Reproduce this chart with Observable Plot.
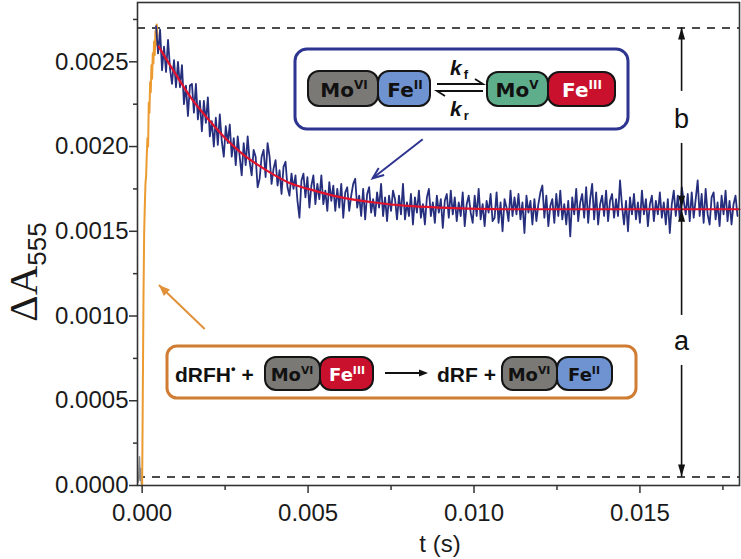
<!DOCTYPE html>
<html><head><meta charset="utf-8">
<script src="https://cdn.jsdelivr.net/npm/d3@7"></script>
<script src="https://cdn.jsdelivr.net/npm/@observablehq/plot@0.6"></script>
<style>body{margin:0;background:#fff}#chart{width:741px;height:559px}</style>
</head><body><div id="chart"></div>
<script>
// ---- axis ticks ----
const yTicks = [0, 0.0005, 0.0010, 0.0015, 0.0020, 0.0025];
const yMinor = [0.00025, 0.00075, 0.00125, 0.00175, 0.00225, 0.00275];
const xTicks = [0, 0.005, 0.010, 0.015];
const xMinor = [0.0025, 0.0075, 0.0125, 0.0175];

// ---- orange rising phase ----
const riseT = [0,0.00002,0.00004,0.00006,0.00008,0.0001,0.00012,0.00014,0.00016,0.00018,0.0002,0.00022,0.00024,0.00026,0.00028,0.0003,0.00032,0.00034,0.00036,0.00038,0.0004,0.00042,0.00044,0.00046];
const riseV = [0,0.00055,0.00110,0.00148,0.00165,0.00178,0.00183,0.00195,0.00205,0.00200,0.00226,0.00220,0.00238,0.00232,0.00248,0.00240,0.00255,0.00249,0.00262,0.00254,0.00268,0.00260,0.00272,0.00265];

// ---- pre-trigger baseline ----
const preT = [-0.00012,-0.0001,-0.00008,-0.00006,-0.00004,-0.00002,0];
const preV = [0.00002,0.00006,0.00017,0.00003,0.00010,0.00001,0];

// ---- blue decay trace (uniform sampling) ----
const traceStart = 0.00042, traceStep = 0.00006;
const traceV = [
0.00271,0.00255,0.00269,0.00245,0.00259,0.00244,0.00263,0.00246,0.00237,0.00251,
0.00235,0.00250,0.00235,0.00248,0.00225,0.00236,0.00218,0.00236,0.00237,0.00220,
0.00237,0.00216,0.00227,0.00209,0.00227,0.00214,0.00229,0.00206,0.00215,0.00200,
0.00217,0.00201,0.00219,0.00203,0.00194,0.00212,0.00202,0.00213,0.00194,0.00205,
0.00189,0.00206,0.00194,0.00183,0.00202,0.00189,0.00206,0.00191,0.00183,0.00198,
0.00194,0.00176,0.00181,0.00194,0.00198,0.00182,0.00202,0.00194,0.00178,0.00187,
0.00192,0.00177,0.00186,0.00172,0.00188,0.00191,0.00176,0.00171,0.00184,0.00175,
0.00183,0.00168,0.00158,0.00180,0.00184,0.00170,0.00182,0.00164,0.00177,0.00183,
0.00166,0.00178,0.00169,0.00183,0.00166,0.00174,0.00162,0.00179,0.00168,0.00177,
0.00162,0.00175,0.00164,0.00178,0.00158,0.00173,0.00176,0.00162,0.00171,0.00178,
0.00181,0.00164,0.00171,0.00159,0.00175,0.00157,0.00172,0.00176,0.00161,0.00169,
0.00159,0.00173,0.00164,0.00178,0.00159,0.00170,0.00156,0.00171,0.00162,0.00174,
0.00169,0.00157,0.00171,0.00160,0.00178,0.00157,0.00167,0.00159,0.00172,0.00154,
0.00170,0.00161,0.00174,0.00158,0.00166,0.00154,0.00170,0.00175,0.00159,0.00167,
0.00155,0.00171,0.00161,0.00169,0.00152,0.00168,0.00172,0.00158,0.00174,0.00160,
0.00170,0.00156,0.00167,0.00159,0.00173,0.00153,0.00166,0.00171,0.00161,0.00155,
0.00171,0.00159,0.00175,0.00157,0.00166,0.00153,0.00168,0.00161,0.00172,0.00156,
0.00158,0.00173,0.00155,0.00167,0.00150,0.00169,0.00164,0.00156,0.00174,0.00159,
0.00170,0.00160,0.00172,0.00157,0.00167,0.00149,0.00171,0.00161,0.00168,0.00154,
0.00169,0.00156,0.00166,0.00173,0.00177,0.00158,0.00171,0.00153,0.00165,0.00169,
0.00155,0.00172,0.00159,0.00174,0.00157,0.00166,0.00154,0.00168,0.00147,0.00170,
0.00160,0.00175,0.00156,0.00167,0.00172,0.00158,0.00176,0.00155,0.00169,0.00178,
0.00157,0.00173,0.00154,0.00166,0.00171,0.00159,0.00174,0.00156,0.00168,0.00172,
0.00158,0.00169,0.00159,0.00180,0.00165,0.00154,0.00168,0.00150,0.00170,0.00160,
0.00172,0.00157,0.00167,0.00155,0.00174,0.00160,0.00169,0.00153,0.00166,0.00171,
0.00156,0.00168,0.00160,0.00173,0.00158,0.00167,0.00154,0.00169,0.00149,0.00166,
0.00174,0.00159,0.00171,0.00157,0.00176,0.00168,0.00160,0.00172,0.00156,0.00173,
0.00158,0.00169,0.00180,0.00159,0.00172,0.00155,0.00175,0.00160,0.00154,0.00170,
0.00173,0.00157,0.00167,0.00153,0.00171,0.00160,0.00174,0.00156,0.00168,0.00154,0.00166,0.00171,0.00159];

// ---- red exponential fit ----
const fitT = [0.0005,0.001,0.0015,0.002,0.0025,0.003,0.0035,0.004,0.0045,0.005,0.006,0.007,0.008,0.009,0.011,0.014,0.018];
const fitV = [0.00259,0.00243,0.00228,0.00216,0.00205,0.00196,0.00189,0.00183,0.00178,0.00175,0.00170,0.00167,0.00165,0.00164,0.00163,0.00163,0.00163];

// ---- annotation levels ----
const levelTop = 0.0027, levelMid = 0.00163, levelBase = 0.00005;
const arrowT = 0.01627;
const labelB = 0.00216, labelA = 0.00085;
const navyPointer = {t1: 0.00847, v1: 0.00204, t2: 0.00696, v2: 0.00181};
const orangePointer = {t1: 0.0019, v1: 0.00092, t2: 0.00052, v2: 0.00118};

const rise = riseT.map((t, i) => ({t, v: riseV[i]}));
const pre = preT.map((t, i) => ({t, v: preV[i]}));
const trace = traceV.map((v, i) => ({t: traceStart + i * traceStep, v}));
const fit = fitT.map((t, i) => ({t, v: fitV[i]}));

const FONT = "'Liberation Sans', Arial, sans-serif";
const CHEM = "'DejaVu Sans', 'Liberation Sans', sans-serif";
const chart = Plot.plot({
  width: 741, height: 559,
  marginLeft: 137, marginRight: 2, marginTop: 2, marginBottom: 74,
  style: {fontFamily: FONT, background: "#fff", color: "#1a1a1a"},
  x: {domain: [-0.00014, 0.018]},
  y: {domain: [0, 0.00285]},
  marks: [
    Plot.ruleY([levelTop, levelBase], {stroke: "#111", strokeWidth: 1.5, strokeDasharray: "8,7"}),
    Plot.line(pre, {x: "t", y: "v", stroke: "#8a8a8a", strokeWidth: 1.5}),
    Plot.line(rise, {x: "t", y: "v", stroke: "#eb9b30", strokeWidth: 2}),
    Plot.line(trace, {x: "t", y: "v", stroke: "#262f7e", strokeWidth: 1.8}),
    Plot.line(fit, {x: "t", y: "v", stroke: "#e3122b", strokeWidth: 2.2, curve: "monotone-x"}),
    Plot.frame({stroke: "#333", strokeWidth: 1.6}),
    Plot.axisY(yTicks, {tickSize: 8, tickPadding: 1, fontSize: 24, tickFormat: d3.format(".4f"), label: null, stroke: "#333", strokeWidth: 1.5}),
    Plot.axisY(yMinor, {tickSize: 4, tickFormat: () => "", label: null, stroke: "#333", strokeWidth: 1.5}),
    Plot.axisX(xTicks, {tickSize: 8, tickPadding: 10, fontSize: 24, tickFormat: d3.format(".3f"), label: null, stroke: "#333", strokeWidth: 1.5}),
    Plot.axisX(xMinor, {tickSize: 5, tickFormat: () => "", label: null, stroke: "#333", strokeWidth: 1.5})
  ]
});
document.getElementById("chart").appendChild(chart);

const xs = chart.scale("x"), ys = chart.scale("y");
const X = v => xs.apply(v), Y = v => ys.apply(v);
const svg = d3.select(chart);
const g = svg.append("g").attr("text-anchor", "start");

// axis titles
const yl = g.append("text").attr("transform", "translate(37,272) rotate(-90)").attr("text-anchor", "middle").attr("fill", "#1a1a1a");
yl.append("tspan").attr("font-family", "'Liberation Serif', 'Times New Roman', serif").attr("font-size", 41).text("ΔA");
yl.append("tspan").attr("font-family", FONT).attr("font-size", 26).attr("dy", 9).text("555");
g.append("text").attr("x", 440).attr("y", 552).attr("text-anchor", "middle").attr("font-family", FONT).attr("font-size", 24).attr("fill", "#1a1a1a").text("t (s)");

function tri(px, py, dir, len, hw, fill) {
  g.append("path").attr("d", `M${px},${py}L${px - hw},${py - dir * len}L${px + hw},${py - dir * len}Z`).attr("fill", fill);
}
// a / b arrows
const ax = X(arrowT);
const gapB = [Y(labelB) - 28, Y(labelB) + 24], gapA = [Y(labelA) - 26, Y(labelA) + 24];
const segs = [[Y(levelTop), gapB[0]], [gapB[1], Y(levelMid)], [Y(levelMid), gapA[0]], [gapA[1], Y(levelBase)]];
segs.forEach(([a, b]) => g.append("line").attr("x1", ax).attr("x2", ax).attr("y1", a).attr("y2", b).attr("stroke", "#111").attr("stroke-width", 1.6));
tri(ax, Y(levelTop), -1, 12, 3.5, "#111");
tri(ax, Y(levelMid) - 1, 1, 12, 3.5, "#111");
tri(ax, Y(levelMid) + 1, -1, 12, 3.5, "#111");
tri(ax, Y(levelBase), 1, 12, 3.5, "#111");
g.append("text").attr("x", ax).attr("y", Y(labelB) + 9).attr("text-anchor", "middle").attr("font-family", FONT).attr("font-size", 27).attr("fill", "#111").text("b");
g.append("text").attr("x", ax).attr("y", Y(labelA) + 9).attr("text-anchor", "middle").attr("font-family", FONT).attr("font-size", 27).attr("fill", "#111").text("a");

// pointer arrows
function pointer(p, color, filled) {
  const x1 = X(p.t1), y1 = Y(p.v1), x2 = X(p.t2), y2 = Y(p.v2);
  const ang = Math.atan2(y2 - y1, x2 - x1), L = 12, w = 0.38;
  g.append("line").attr("x1", x1).attr("y1", y1).attr("x2", x2).attr("y2", y2).attr("stroke", color).attr("stroke-width", 2);
  const pA = [x2 - L * Math.cos(ang - w), y2 - L * Math.sin(ang - w)], pB = [x2 - L * Math.cos(ang + w), y2 - L * Math.sin(ang + w)];
  if (filled) g.append("path").attr("d", `M${x2},${y2}L${pA}L${pB}Z`).attr("fill", color);
  else g.append("path").attr("d", `M${pA}L${x2},${y2}L${pB}`).attr("fill", "none").attr("stroke", color).attr("stroke-width", 2);
}
pointer(navyPointer, "#2e3590", false);
pointer(orangePointer, "#e0913a", true);

// scheme boxes
const C = {mo6: "#7b7976", fe2: "#6f93d0", mo5: "#5fae8b", fe3: "#c9102d"};
function pill(x0, y0, w, h, fill) {
  g.append("rect").attr("x", x0).attr("y", y0).attr("width", w).attr("height", h).attr("rx", 11).attr("fill", fill).attr("stroke", "#151515").attr("stroke-width", 2);
}
function chem(cx, base, main, sup, color, fs) {
  const t = g.append("text").attr("x", cx).attr("y", base).attr("text-anchor", "middle").attr("font-family", CHEM).attr("font-weight", "bold").attr("font-size", fs).attr("fill", color);
  t.append("tspan").text(main);
  t.append("tspan").attr("font-size", fs * 0.6).attr("dy", -fs * 0.4).text(sup);
}
// top box
g.append("rect").attr("x", 295).attr("y", 49).attr("width", 333).attr("height", 80).attr("rx", 12).attr("fill", "#fff").attr("stroke", "#2e3590").attr("stroke-width", 3);
pill(308, 71, 70, 35, C.mo6); pill(378, 71, 52, 35, C.fe2);
pill(487, 72, 61, 34, C.mo5); pill(548, 72, 67, 34, C.fe3);
chem(344, 97, "Mo", "VI", "#111", 20);
chem(405, 97, "Fe", "II", "#111", 20);
chem(517, 97, "Mo", "V", "#111", 20);
chem(582, 97, "Fe", "III", "#fff", 20);
g.append("path").attr("d", "M437,84H483L475,79").attr("fill", "none").attr("stroke", "#111").attr("stroke-width", 1.8);
g.append("path").attr("d", "M483,91H437L445,96").attr("fill", "none").attr("stroke", "#111").attr("stroke-width", 1.8);
function kLabel(x0, base, sub) {
  const t = g.append("text").attr("x", x0).attr("y", base).attr("text-anchor", "start").attr("font-family", FONT).attr("font-weight", "bold").attr("fill", "#111");
  t.append("tspan").attr("font-style", "italic").attr("font-size", 21).text("k");
  t.append("tspan").attr("font-size", 13).attr("dy", 4).attr("dx", 2).text(sub);
}
kLabel(450, 75, "f");
kLabel(450, 116, "r");

// bottom box
g.append("rect").attr("x", 167).attr("y", 346).attr("width", 469).attr("height", 52).attr("rx", 10).attr("fill", "#fff").attr("stroke", "#d07c33").attr("stroke-width", 3);
const t1 = g.append("text").attr("x", 175).attr("y", 382).attr("text-anchor", "start").attr("font-family", FONT).attr("font-weight", "bold").attr("font-size", 21).attr("fill", "#111");
t1.append("tspan").text("dRFH");
t1.append("tspan").attr("font-size", 13).attr("dy", -9).text("•");
t1.append("tspan").attr("dy", 9).text(" +");
pill(265, 357, 55, 33, C.mo6); pill(320, 357, 53, 33, C.fe3);
chem(292, 381, "Mo", "VI", "#111", 18);
chem(347, 381, "Fe", "III", "#fff", 18);
g.append("line").attr("x1", 385).attr("x2", 420).attr("y1", 373).attr("y2", 373).attr("stroke", "#111").attr("stroke-width", 1.8);
g.append("path").attr("d", "M428,373L419,369.5L419,376.5Z").attr("fill", "#111");
g.append("text").attr("x", 437).attr("y", 382).attr("text-anchor", "start").attr("font-family", FONT).attr("font-weight", "bold").attr("font-size", 21).attr("fill", "#111").text("dRF +");
pill(502, 357, 55, 33, C.mo6); pill(557, 357, 55, 33, C.fe2);
chem(529, 381, "Mo", "VI", "#111", 18);
chem(584, 381, "Fe", "II", "#111", 18);
</script></body></html>
